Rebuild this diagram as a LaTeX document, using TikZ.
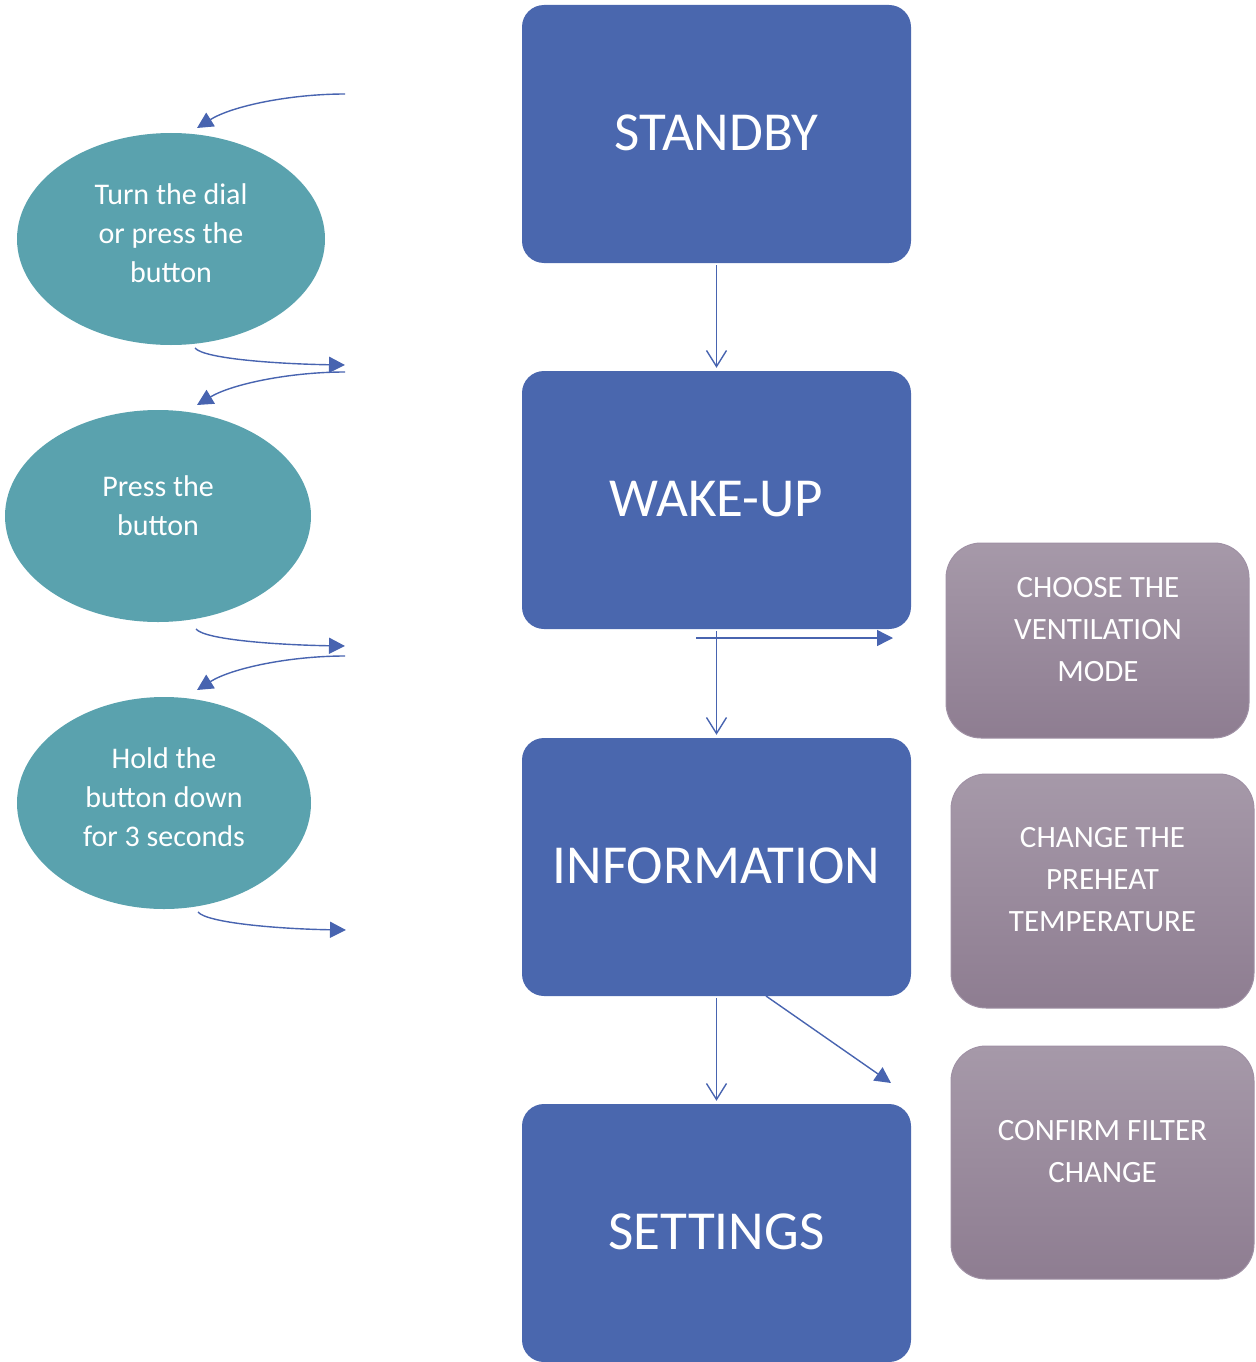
\documentclass[tikz,border=0pt]{standalone}
\usepackage{fontspec}
\setmainfont{Carlito}
\usetikzlibrary{arrows.meta,shapes.geometric}
\definecolor{boxblue}{RGB}{74,103,174}
\definecolor{tealc}{RGB}{90,162,174}
\definecolor{ptop}{RGB}{166,153,169}
\definecolor{pbot}{RGB}{142,125,145}
\definecolor{pedge}{RGB}{160,145,165}
\definecolor{arrowc}{RGB}{72,100,176}
\begin{document}
\begin{tikzpicture}[x=1pt,y=-1pt,
  statebox/.style={fill=boxblue, draw=none, rounded corners=22pt, minimum width=389pt, minimum height=258pt, inner sep=0pt},
  statetext/.style={text=white, font=\fontsize{55}{60}\selectfont, inner sep=0pt},
  actell/.style={ellipse, fill=tealc, draw=none, inner sep=0pt},
  acttext/.style={text=white, font=\fontsize{30}{39}\selectfont, align=center, inner sep=0pt},
  optbox/.style={top color=ptop, bottom color=pbot, draw=pedge, line width=1pt, rounded corners=35pt, minimum width=303pt, inner sep=0pt},
  opttext/.style={text=white, font=\fontsize{31}{42}\selectfont, align=center, inner sep=0pt},
  vline/.style={draw=arrowc, line width=1.4pt, -{Straight Barb[length=16pt,width=20pt,line width=1.4pt]}},
  tline/.style={draw=arrowc, line width=1.4pt, -{Triangle[length=16pt,width=16pt]}},
]
\useasboundingbox (0,0) rectangle (1255,1362);

% main states
\node[statebox] (standby) at (716.5,134) {};
\node[statetext] (standbyt) at (716.5,133) {STANDBY};
\node[statebox] (wake) at (716.5,500) {};
\node[statetext] (waket) at (716.5,499) {WAKE-UP};
\node[statebox] (info) at (716.5,867) {};
\node[statetext] (infot) at (716.5,866) {INFORMATION};
\node[statebox] (settings) at (716.5,1233) {};
\node[statetext] (settingst) at (716.5,1232) {SETTINGS};

% actions
\node[actell, minimum width=308pt, minimum height=212pt] (e1) at (171,239) {};
\node[acttext] (e1t) at (171,233) {Turn the dial\\or press the\\button};
\node[actell, minimum width=306pt, minimum height=212pt] (e2) at (158,516) {};
\node[acttext] (e2t) at (158,506) {Press the\\button};
\node[actell, minimum width=294pt, minimum height=212pt] (e3) at (164,803) {};
\node[acttext] (e3t) at (164,797) {Hold the\\button down\\for 3 seconds};

% options
\node[optbox, minimum height=195pt] (o1) at (1097.5,640.5) {};
\node[opttext] (o1t) at (1098,630) {CHOOSE THE\\VENTILATION\\MODE};
\node[optbox, minimum height=234pt] (o2) at (1102.5,891) {};
\node[opttext] (o2t) at (1102.5,880) {CHANGE THE\\PREHEAT\\TEMPERATURE};
\node[optbox, minimum height=233pt] (o3) at (1102.5,1162.5) {};
\node[opttext] (o3t) at (1102.5,1152) {CONFIRM FILTER\\CHANGE};

% vertical connectors
\draw[vline] ([yshift=-2pt]standby.south) -- ([yshift=3pt]wake.north);
\draw[vline] ([yshift=-2pt]wake.south) -- ([yshift=3pt]info.north);
\draw[vline] ([yshift=-2pt]info.south) -- ([yshift=3pt]settings.north);

% side connectors
\coordinate (h1s) at (696,638);
\coordinate (h1e) at (893,638);
\draw[tline] (h1s) -- (h1e);
\coordinate (d1s) at (766,996);
\coordinate (d1e) at (891,1083);
\draw[tline] (d1s) -- (d1e);

% curved connectors
\coordinate (c1s) at (345,94);   \coordinate (c1e) at (197,128);
\coordinate (c2s) at (195,348);  \coordinate (c2e) at (345,365);
\coordinate (c3s) at (345,372);  \coordinate (c3e) at (197,405);
\coordinate (c4s) at (196,629);  \coordinate (c4e) at (345,646);
\coordinate (c5s) at (345,656);  \coordinate (c5e) at (197,690);
\coordinate (c6s) at (198,912);  \coordinate (c6e) at (346,930);
\draw[tline] (c1s) .. controls (290,94) and (232,106) .. (c1e);
\draw[tline] (c2s) .. controls (204,359) and (280,364) .. (c2e);
\draw[tline] (c3s) .. controls (290,372) and (232,384) .. (c3e);
\draw[tline] (c4s) .. controls (205,640) and (280,645) .. (c4e);
\draw[tline] (c5s) .. controls (290,656) and (232,668) .. (c5e);
\draw[tline] (c6s) .. controls (207,923) and (280,929) .. (c6e);
\end{tikzpicture}
\end{document}
